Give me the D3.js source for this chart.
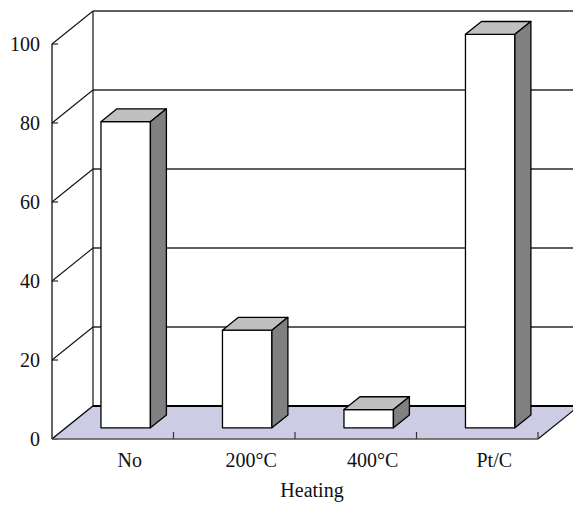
<!DOCTYPE html>
<html>
<head>
<meta charset="utf-8">
<script src="https://cdn.jsdelivr.net/npm/d3@7"></script>
<style>
  html, body { margin: 0; padding: 0; background: #ffffff; }
  svg { display: block; }
  text { font-family: "Liberation Serif", "Times New Roman", serif; fill: #111; }
</style>
</head>
<body>
<script>
// Activity by heating treatment
const categories = ["No", "200°C", "400°C", "Pt/C"];
const values = [77.5, 24.7, 4.6, 99.6];
const yTicks = [0, 20, 40, 60, 80, 100];
const xTitle = "Heating";

const W = 573, H = 506;
const svg = d3.select("body").append("svg").attr("width", W).attr("height", H);

// Front plane of the plot box and the oblique depth offset
const plotLeft = 52, plotRight = 538, plotBase = 439, plotTop = 44;
const depth = { dx: 41, dy: -33 };
const barFront = 0.34, barBack = 0.73;   // bar position within the depth
const fontSize = 20;

const y = d3.scaleLinear().domain([0, 100]).range([plotBase, plotTop]);
const xBand = d3.scaleBand().domain(categories).range([plotLeft, plotRight]).paddingInner(0.593).paddingOuter(0.2965);
const xTick = d3.scaleBand().domain(categories).range([plotLeft, plotRight]);

const at = (x, yy, f) => [x + f * depth.dx, yy + f * depth.dy];
const poly = pts => "M" + pts.map(p => p.join(",")).join("L") + "Z";

const line = (x1, y1, x2, y2, stroke, w) =>
  svg.append("line").attr("x1", x1).attr("y1", y1).attr("x2", x2).attr("y2", y2)
    .attr("stroke", stroke).attr("stroke-width", w);

// Back wall: gridlines and left edge
const bx = plotLeft + depth.dx;
yTicks.filter(t => t > 0).forEach(t => {
  const yy = y(t) + depth.dy;
  line(bx, yy, W + 10, yy, "#2a2a2a", 1.4);
});
line(bx, y(100) + depth.dy, bx, y(0) + depth.dy, "#111", 1.2);

// Left side wall: front value axis, ticks and diagonal grid
line(plotLeft, y(100), plotLeft, y(0), "#111", 1.3);
yTicks.forEach(t => {
  line(plotLeft, y(t), plotLeft + depth.dx, y(t) + depth.dy, "#111", 1.1);
  line(plotLeft, y(t), plotLeft + 6, y(t), "#111", 1.1);
});

// Value axis labels
svg.append("g").selectAll("text").data(yTicks).join("text")
  .attr("x", 40).attr("y", d => y(d))
  .attr("dy", "0.35em")
  .attr("text-anchor", "end")
  .attr("font-size", fontSize)
  .text(d => d);

// Floor
svg.append("path")
  .attr("d", poly([[plotLeft, plotBase], [plotRight, plotBase], at(plotRight, plotBase, 1), at(plotLeft, plotBase, 1)]))
  .attr("fill", "#cccce4").attr("stroke", "none");
line(bx, plotBase + depth.dy, W + 10, plotBase + depth.dy, "#000", 2);
line(plotLeft, plotBase, plotLeft + depth.dx, plotBase + depth.dy, "#111", 1.2);
line(plotRight, plotBase, plotRight + depth.dx, plotBase + depth.dy, "#111", 1.2);
line(plotLeft, plotBase, plotRight, plotBase, "#555", 1.4);

// Category tick marks on the front edge
categories.forEach(c => {
  const xx = xTick(c) + xTick.bandwidth();
  line(xx, plotBase, xx, plotBase - 7, "#333", 1.2);
});

// 3D bars: front, top and right-hand side faces
const bars = svg.append("g");
categories.forEach((c, i) => {
  const x0 = xBand(c) - 1, x1 = x0 + xBand.bandwidth();
  const v = values[i];
  const fl0 = at(x0, y(0), barFront), fr0 = at(x1, y(0), barFront);
  const flv = at(x0, y(v), barFront), frv = at(x1, y(v), barFront);
  const blv = at(x0, y(v), barBack), brv = at(x1, y(v), barBack);
  const br0 = at(x1, y(0), barBack);
  const g = bars.append("g").attr("stroke", "#000").attr("stroke-width", 1.3).attr("stroke-linejoin", "round");
  g.append("path").attr("d", poly([fl0, fr0, frv, flv])).attr("fill", "#ffffff");
  g.append("path").attr("d", poly([flv, frv, brv, blv])).attr("fill", "#c0c0c0");
  g.append("path").attr("d", poly([fr0, br0, brv, frv])).attr("fill", "#808080");
});

// Category labels
svg.append("g").selectAll("text").data(categories).join("text")
  .attr("x", d => xTick(d) + xTick.bandwidth() / 2 + 17)
  .attr("y", 467)
  .attr("text-anchor", "middle")
  .attr("font-size", fontSize)
  .text(d => d);

// Axis title
svg.append("text")
  .attr("x", (plotLeft + plotRight) / 2 + 17)
  .attr("y", 497)
  .attr("text-anchor", "middle")
  .attr("font-size", fontSize)
  .text(xTitle);
</script>
</body>
</html>
